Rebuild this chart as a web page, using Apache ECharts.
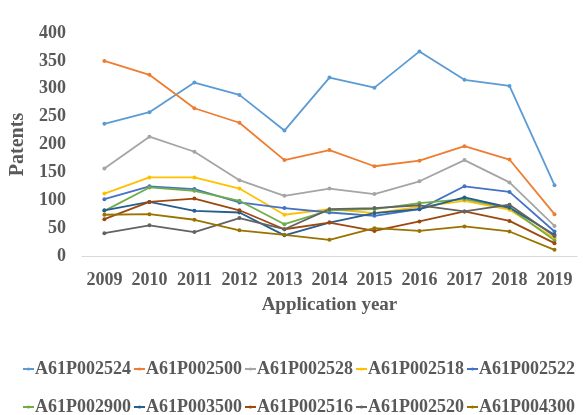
<!DOCTYPE html>
<html>
<head>
<meta charset="utf-8">
<script src="https://cdn.jsdelivr.net/npm/echarts@6/dist/echarts.min.js"></script>
<style>
  html, body { margin: 0; padding: 0; background: #fff; }
  #patentchart { width: 583px; height: 415px; }
</style>
</head>
<body>
<div id="patentchart"></div>
<script>
var years = ['2009', '2010', '2011', '2012', '2013', '2014', '2015', '2016', '2017', '2018', '2019'];

var A61P002524 = [237, 258, 311, 289, 225, 320, 302, 367, 316, 305, 127];
var A61P002500 = [350, 325, 265, 239, 172, 190, 161, 171, 197, 173, 75];
var A61P002528 = [157, 214, 187, 136, 108, 121, 111, 134, 172, 132, 54];
var A61P002518 = [112, 141, 141, 121, 74, 84, 77, 88, 99, 83, 32];
var A61P002522 = [102, 125, 120, 96, 86, 78, 72, 84, 125, 115, 44];
var A61P002900 = [81, 123, 117, 99, 57, 82, 84, 95, 102, 86, 28];
var A61P003500 = [82, 97, 81, 78, 37, 60, 77, 84, 105, 87, 38];
var A61P002516 = [66, 97, 103, 82, 48, 60, 45, 62, 80, 63, 23];
var A61P002520 = [41, 55, 43, 68, 48, 84, 86, 91, 80, 92, 36];
var A61P004300 = [74, 75, 65, 46, 38, 29, 50, 45, 53, 44, 11];

var seriesNames = ['A61P002524', 'A61P002500', 'A61P002528', 'A61P002518', 'A61P002522',
                   'A61P002900', 'A61P003500', 'A61P002516', 'A61P002520', 'A61P004300'];
var seriesValues = [A61P002524, A61P002500, A61P002528, A61P002518, A61P002522,
                    A61P002900, A61P003500, A61P002516, A61P002520, A61P004300];
var colors = ['#5B9BD5', '#ED7D31', '#A5A5A5', '#FFC000', '#4472C4',
              '#70AD47', '#255E91', '#9E480E', '#636363', '#997300'];

var fontFam = '"Liberation Serif", "Times New Roman", serif';

var Chart = echarts.init(document.getElementById('patentchart'));

var series = [];
for (var i = 0; i < seriesNames.length; i++) {
  series.push({
    name: seriesNames[i],
    type: 'line',
    data: seriesValues[i],
    symbol: 'circle',
    symbolSize: 4,
    color: colors[i],
    lineStyle: { width: 1.8, color: colors[i] },
    itemStyle: { color: colors[i] }
  });
}

// two legend rows of five, like the original
var legendText = { fontFamily: fontFam, fontWeight: 'bold', fontSize: 18, color: '#595959', padding: [0, 0, 0, -4] };

var options = {
  animation: false,
  color: colors,
  grid: { left: 76, right: 6, top: 33, bottom: 159 },
  legend: [
    {
      data: seriesNames.slice(0, 5),
      left: 17, top: 355, width: 580,
      itemWidth: 11, itemHeight: 4, itemGap: 2,
      textStyle: legendText
    },
    {
      data: seriesNames.slice(5),
      left: 17, top: 393, width: 580,
      itemWidth: 11, itemHeight: 4, itemGap: 2,
      textStyle: legendText
    }
  ],
  xAxis: {
    type: 'category',
    data: years,
    boundaryGap: true,
    name: 'Application year',
    nameLocation: 'middle',
    nameGap: 40,
    nameTextStyle: { fontFamily: fontFam, fontWeight: 'bold', fontSize: 19, color: '#595959' },
    axisLine: { lineStyle: { color: '#D9D9D9', width: 1 } },
    axisTick: { show: false },
    axisLabel: { interval: 0, fontFamily: fontFam, fontWeight: 'bold', fontSize: 18, color: '#595959', margin: 15 }
  },
  yAxis: {
    type: 'value',
    min: 0,
    max: 400,
    interval: 50,
    name: 'Patents',
    nameLocation: 'middle',
    nameGap: 39,
    nameTextStyle: { fontFamily: fontFam, fontWeight: 'bold', fontSize: 20, color: '#595959' },
    axisLine: { show: false },
    axisTick: { show: false },
    splitLine: { show: false },
    axisLabel: { fontFamily: fontFam, fontWeight: 'bold', fontSize: 18, color: '#595959', margin: 16 }
  },
  series: series
};

Chart.setOption(options);
</script>
</body>
</html>
